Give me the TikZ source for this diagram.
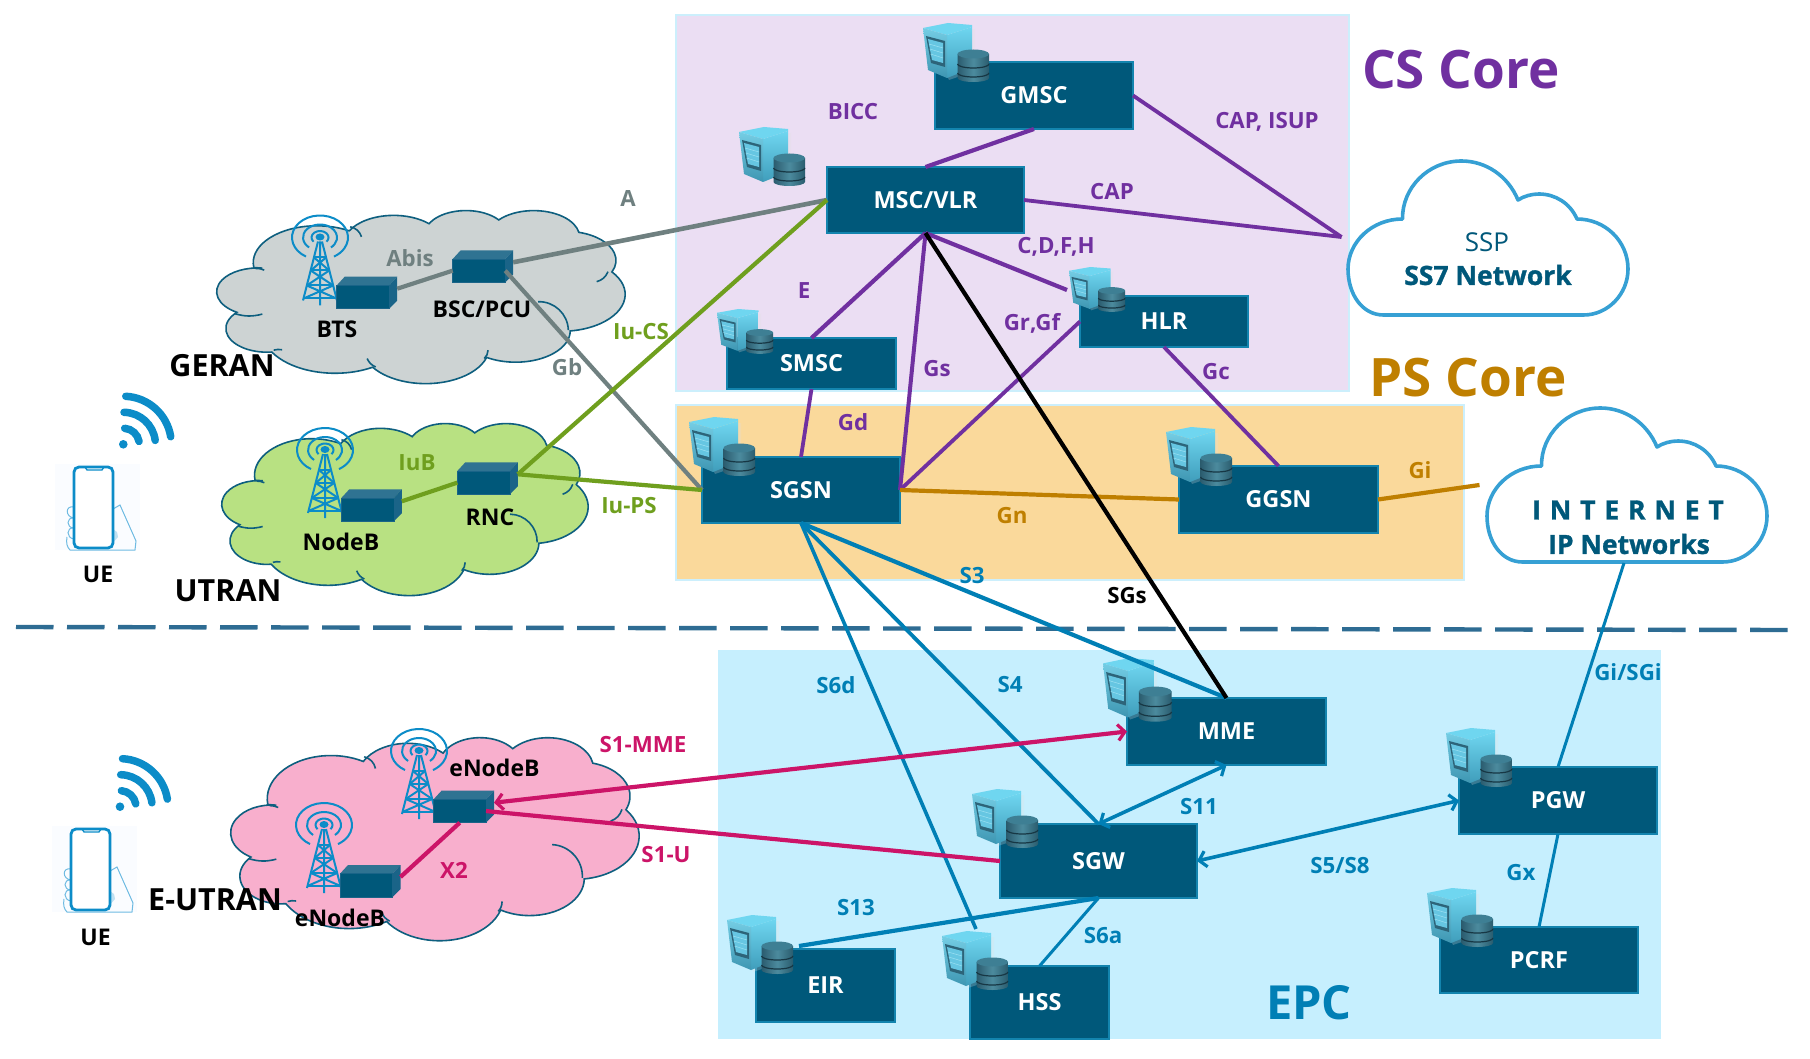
\documentclass[tikz,border=0pt]{standalone}
\usepackage{fontspec}
\setmainfont{Open Sans}
\usetikzlibrary{arrows.meta}
\definecolor{cBox}{HTML}{00587A}
\definecolor{cBoxEdge}{HTML}{1384AE}
\definecolor{cPurple}{HTML}{7030A0}
\definecolor{cGold}{HTML}{BF7F00}
\definecolor{cBlue}{HTML}{007FB5}
\definecolor{cGrey}{HTML}{6F8080}
\definecolor{cGreen}{HTML}{6F9F1E}
\definecolor{cPink}{HTML}{CC1468}
\definecolor{cTower}{HTML}{0C8CC8}
\definecolor{cCloudEdge}{HTML}{0E5F7F}
\definecolor{cNet}{HTML}{36A0D4}
% PowerPoint-like cloud outline, built as a path macro
\gdef\cloudpath{}
\newcommand\mkarc[4]{%
  \pgfmathsetmacro\ta{atan2(#1*sin(#3),#2*cos(#3))}%
  \pgfmathsetmacro\tb{atan2(#1*sin(#3+#4),#2*cos(#3+#4))}%
  \pgfmathsetmacro\tb{ifthenelse(\tb<\ta,\tb+360,\tb)}%
  \xdef\cloudpath{\cloudpath arc[x radius=#1,y radius=#2,start angle=\ta,end angle=\tb] }}
\mkarc{67.53}{91.90}{-190.487}{123.780}
\mkarc{53.33}{72.67}{-144.102}{89.945}
\mkarc{43.65}{59.45}{-145.808}{99.723}
\mkarc{48.57}{65.95}{-130.986}{117.242}
\mkarc{53.33}{72.73}{-78.709}{109.027}
\mkarc{67.75}{92.20}{-46.267}{130.269}
\mkarc{57.85}{78.67}{0.625}{114.033}
\mkarc{67.52}{92.15}{22.452}{115.173}
\mkarc{77.20}{105.43}{66.243}{75.711}
\mkarc{43.60}{59.18}{-274.942}{146.736}
\mkarc{43.45}{59.45}{-246.829}{161.667}
\newcommand\netcloudarea[6]{% name x y w h colour
  \begin{scope}[shift={(#2,#3)},x=#4pt/432,y=-#5pt/432]
    \filldraw[cloudline,fill=#6] (39,143.7) \cloudpath -- cycle;
    \draw[cloudline] (141,42) to[bend left=30] (153,67);
    \draw[cloudline] (414,154) to[bend left=25] (402,179);
    \draw[cloudline] (340,229) to[bend left=45] (372,300);
    \draw[cloudline] (287,350) to[bend left=20] (283,371);
    \draw[cloudline] (159,371) to[bend right=20] (168,392);
    \draw[cloudline] (60,350) to[bend left=12] (69,349);
    \draw[cloudline] (19,259) to[bend right=15] (48,260);
    \draw[cloudline] (41,146) to[bend left=12] (50,150);
  \end{scope}}
\newcommand\radiounit[3]{% name x y(top of back edge)
  \begin{scope}[shift={(#2,#3)}]
    \fill[fill=cBoxTop] (0,8.7) -- (8,0) -- (60.5,0) -- (52.5,8.7) -- cycle;
    \fill[fill=cBoxSide] (52.5,8.7) -- (60.5,0) -- (60.5,24) -- (52.5,32) -- cycle;
    \node[radiofront] (#1) at (0,8.7) {};
    \coordinate (#1r) at (60.5,12);
  \end{scope}}
\definecolor{cBoxTop}{HTML}{2F7392}
\definecolor{cBoxSide}{HTML}{1A6488}
\tikzset{
  cloudline/.style={draw=cCloudEdge,line width=1.6pt},
  panel/.style={draw=#1,line width=1.5pt},
  netbox/.style={anchor=north west,draw=cBoxEdge,line width=1.1pt,fill=cBox,text=white,inner sep=0pt,outer sep=0pt,font=\fontsize{23.5}{26}\selectfont\bfseries},
  radiofront/.style={anchor=north west,fill=cBox,draw=cBoxSide,line width=.6pt,minimum width=52.5pt,minimum height=23.3pt,inner sep=0pt,outer sep=0pt},
  lbl/.style={inner sep=0pt,outer sep=0pt,font=\fontsize{22.3}{25}\selectfont\bfseries,text=#1},
  lblk/.style={inner sep=0pt,outer sep=0pt,font=\fontsize{23}{26}\selectfont\bfseries,text=black},
  big/.style={inner sep=0pt,outer sep=0pt,font=\fontsize{#1}{#1}\selectfont\bfseries},
  heavy/.style={inner sep=0pt,outer sep=0pt,text=cBox,font=\fontsize{#1}{#1}\selectfont\bfseries\addfontfeature{FakeBold=1.2}},
  wire/.style={line width=#1,line cap=butt},
  barbs/.style={{Straight Barb[length=7pt,width=16pt,line width=3.2pt]}-{Straight Barb[length=7pt,width=16pt,line width=3.2pt]}},
  wifi/.style={draw=cTower,line width=7.5pt,line cap=round},
  pics/srv/.style={code={
    \fill[fill=black!12,opacity=.25] (2,8) -- (26,57) -- (52,48) -- (52,6) -- cycle;
    \shade[top color=cTop,bottom color=cSideB] (24,12) -- (49,4) -- (49,45) -- (24,55) -- cycle;
    \fill[fill=cTop] (0,5) -- (25,0) -- (49,2) -- (49,4) -- (24,12) -- cycle;
    \shade[top color=cFrontT,bottom color=cFrontB] (0,5) -- (24,12) -- (24,55) -- (5,47) -- cycle;
    \fill[fill=cWin] (3,13) -- (22,18) -- (22,44) -- (8,40) -- cycle;
    \fill[fill=cWinL] (5,16) -- (20,20) -- (20,40) -- (9,37) -- cycle;
    \draw[cWinD,line width=.5pt] (6,21) -- (20,25) (6.7,26) -- (20,30) (7.5,31) -- (20,35);
    \shade[left color=cDbA,right color=cDbB,middle color=cDbC] (34.5,31) -- (34.5,55) arc[start angle=180,end angle=0,x radius=15.75,y radius=4] -- (66,31) -- cycle;
    \fill[fill=cDbT] (50.25,31) ellipse[x radius=15.75,y radius=4.5];
    \draw[fill=none,draw=cDbL,line width=1.2pt] (34.5,41) arc[start angle=180,end angle=0,x radius=15.75,y radius=4]
       (34.5,50) arc[start angle=180,end angle=0,x radius=15.75,y radius=4];
  }},
  pics/tower/.style={code={
    \begin{scope}[draw=cTower,line width=2pt]
      \draw (-14,19.05) arc[start angle=120,end angle=420,x radius=28,y radius=22];
      \draw (-10.9,9.96) arc[start angle=130,end angle=410,x radius=17,y radius=13];
      \draw (-6.5,4.18) arc[start angle=140,end angle=400,x radius=8.5,y radius=6.5];
      \draw (-2,4) -- (-17,63) (2,4) -- (17,63) (0,4) -- (0,68);
      \draw (-6,20) -- (6,20) (-9.3,33) -- (9.3,33) (-13.2,48) -- (13.2,48) (-16.5,61) -- (16.5,61);
      \draw (-6,20) -- (9.3,33) (6,20) -- (-9.3,33) (-9.3,33) -- (13.2,48) (9.3,33) -- (-13.2,48) (-13.2,48) -- (16.5,61) (13.2,48) -- (-16.5,61);
    \end{scope}
    \fill[fill=cTower] (0,-.5) ellipse[x radius=4.5,y radius=3.5];
  }},
  pics/wififan/.style={code={
    \fill[fill=cTower] (0,0) circle[radius=4.3];
    \draw[wifi] (2.5,-48) arc[start angle=-87,end angle=-9,radius=48];
    \draw[wifi] (.7,-32) arc[start angle=-89,end angle=-7,radius=32];
    \draw[wifi] (1.4,-16) arc[start angle=-85,end angle=-10,radius=16];
  }},
  pics/phone/.style={code={
    \fill[fill=cPhoneBg] (-19,-3) rectangle (66,83);
    \begin{scope}[draw=cHand,line width=1pt]
      \draw (0,40) .. controls (-9,38) and (-9,50) .. (0,51) .. controls (-8,50) and (-8,61) .. (0,61) .. controls (-8,60) and (-8,71) .. (0,72);
      \draw (-7,70) .. controls (-8,76) and (-7,80) .. (-4,83) -- (61,83) -- (62,74) -- (46,38) -- (39,42);
      \fill[fill=cHand!45] (39,62) -- (43,65) -- (44,70) -- (38,77) -- cycle;
    \end{scope}
    \draw[draw=cTower,line width=2.8pt,fill=white,rounded corners=5pt] (0,0) rectangle (39,81);
    \draw[draw=cTower,line width=1.3pt] (11,0) -- (13,3) -- (28,3) -- (30,0);
  }},
  pics/netcloud/.style={code={
    \draw[draw=cNet,line width=3.6pt,fill=white,line join=round]
      (35.6,154) -- (235.5,154) .. controls (260,154) and (280,133) .. (280,108)
      .. controls (280,80) and (257,58) .. (229,58)
      .. controls (222,42) and (207,33) .. (191,33) .. controls (184,33) and (176,35) .. (170,39)
      .. controls (160,15) and (138,0) .. (113.5,0) .. controls (80,0) and (54,27) .. (54.5,58)
      .. controls (24,58) and (0,81) .. (0,108) .. controls (0,133) and (14,154) .. (35.6,154) -- cycle;
  }},
}
\definecolor{cTop}{HTML}{6FD6F0}
\definecolor{cSideB}{HTML}{3F9DBB}
\definecolor{cFrontT}{HTML}{74CDE4}
\definecolor{cFrontB}{HTML}{3E96B2}
\definecolor{cWin}{HTML}{2D6479}
\definecolor{cWinL}{HTML}{66C6E2}
\definecolor{cWinD}{HTML}{9BE0F2}
\definecolor{cDbA}{HTML}{2B5C6E}
\definecolor{cDbB}{HTML}{2A5C6E}
\definecolor{cDbC}{HTML}{4C8B9E}
\definecolor{cDbT}{HTML}{3E7F94}
\definecolor{cDbL}{HTML}{173744}
\definecolor{cPhoneBg}{HTML}{FAFCFF}
\definecolor{cHand}{HTML}{6FBBE2}
\begin{document}
\begin{tikzpicture}[x=1pt,y=-1pt]
\useasboundingbox (0,0) rectangle (1810,1059);
\fill[white] (0,0) rectangle (1810,1059);
% panels
\filldraw[panel=cyan!20,fill={rgb,255:red,235;green,222;blue,243}] (676,15) rectangle (1349,391);
\filldraw[panel=cyan!20,fill={rgb,255:red,250;green,217;blue,155}] (676,405) rectangle (1464,580);
\fill[fill={rgb,255:red,198;green,239;blue,254}] (718,650) rectangle (1661,1039);
% dashed divider
\coordinate (divL) at (16,627);
\coordinate (divR) at (1792,630);
\draw[draw={rgb,255:red,46;green,108;blue,147},line width=4.4pt,dash pattern=on 37.5pt off 13.5pt] (divL) -- (divR);
% radio clouds
\netcloudarea{geranCloud}{217}{210}{408}{173}{{rgb,255:red,205;green,211;blue,211}}
\netcloudarea{utranCloud}{222}{423}{366}{172}{{rgb,255:red,184;green,225;blue,130}}
\netcloudarea{eutranCloud}{231}{737}{408}{203}{{rgb,255:red,248;green,175;blue,205}}
% white clouds
\pic at (1348,161) {netcloud};
\pic at (1487,408) {netcloud};
\node[inner sep=0pt,outer sep=0pt,text=cBox,font=\fontsize{26}{28}\selectfont] (sspT) at (1487,242) {SSP};
\node[heavy=26.5] (ss7T) at (1488,275) {SS7 Network};
\node[heavy=26.5] (inetT) at (1628,510) {I\,\,N\,\,T\,\,E\,\,R\,\,N\,\,E\,\,T};
\node[heavy=26.5] (ipT) at (1629,544) {IP Networks};
\coordinate (ss7pt) at (1341.5,237);
\coordinate (inetpt) at (1479.5,485);
\coordinate (inetbot) at (1624,563);
% towers
\pic at (320,237.5) {tower};
\pic at (325,450) {tower};
\pic at (419,751) {tower};
\pic at (324,825) {tower};
% radio units
\radiounit{bts}{336.7}{276.7}
\radiounit{bsc}{452.7}{250.3}
\radiounit{nodeb}{341.3}{489.3}
\radiounit{rnc}{457.3}{462.3}
\radiounit{enbU}{433.5}{790.7}
\radiounit{enbL}{340}{865}
% core boxes
\node[netbox,minimum width=198pt,minimum height=67pt] (gmsc) at (935,62) {GMSC};
\node[netbox,minimum width=197pt,minimum height=66pt] (msc) at (827,167) {MSC/VLR};
\node[netbox,minimum width=169pt,minimum height=51pt] (smsc) at (727,338) {SMSC};
\node[netbox,minimum width=168pt,minimum height=51pt] (hlr) at (1080,296) {HLR};
\node[netbox,minimum width=198pt,minimum height=66pt] (sgsn) at (702,457) {SGSN};
\node[netbox,minimum width=199pt,minimum height=67pt] (ggsn) at (1179,466) {GGSN};
\node[netbox,minimum width=199pt,minimum height=67pt] (mme) at (1127,698) {MME};
\node[netbox,minimum width=197pt,minimum height=74pt] (sgw) at (1000,824) {SGW};
\node[netbox,minimum width=198pt,minimum height=67pt] (pgw) at (1459,767) {PGW};
\node[netbox,minimum width=198pt,minimum height=66pt] (pcrf) at (1440,927) {PCRF};
\node[netbox,minimum width=139pt,minimum height=73pt] (eir) at (756,949) {EIR};
\node[netbox,minimum width=139pt,minimum height=73pt] (hss) at (970,966) {HSS};
% server icons
\pic at (923,23) {srv};
\pic at (739,127) {srv};
\pic[xscale=.85,yscale=.76] at (717,309) {srv};
\pic[xscale=.85,yscale=.76] at (1069,267) {srv};
\pic at (689,417) {srv};
\pic at (1166,427) {srv};
\pic[xscale=1.04,yscale=1.08] at (1103,658) {srv};
\pic at (972,789) {srv};
\pic at (1446,728) {srv};
\pic at (1427,888) {srv};
\pic at (727,915) {srv};
\pic at (942,931) {srv};
\coordinate (hlrIcon) at (1067,290);
\coordinate (eirIcon) at (799,946);
\coordinate (hssIcon) at (976,929);
% connectors: grey
\draw[cGrey,wire=4.6pt] (bscr) -- (msc.west);
\draw[cGrey,wire=4.2pt] (btsr) -- (bsc.west);
\draw[cGrey,wire=4.2pt] (bsc.east) -- (sgsn.west);
% green
\draw[cGreen,wire=4.2pt] (nodebr) -- (rnc.west);
\draw[cGreen,wire=4.2pt] (rncr) -- (msc.west);
\draw[cGreen,wire=4.2pt] (rncr) -- (sgsn.west);
% purple
\draw[cPurple,wire=4.2pt] (gmsc.south) -- (msc.north);
\draw[cPurple,wire=3.8pt] (gmsc.east) -- (ss7pt);
\draw[cPurple,wire=3.8pt] (msc.east) -- (ss7pt);
\draw[cPurple,wire=4.2pt] (msc.south) -- (smsc.north);
\draw[cPurple,wire=4pt] (msc.south) -- (sgsn.east);
\draw[cPurple,wire=4.2pt] (msc.south) -- (hlrIcon);
\draw[cPurple,wire=3.8pt] (hlr.west) -- (sgsn.east);
\draw[cPurple,wire=3.8pt] (hlr.south) -- (ggsn.north);
\draw[cPurple,wire=3.8pt] (smsc.south) -- (sgsn.north);
% gold
\draw[cGold,wire=4.2pt] (sgsn.east) -- (ggsn.west);
\draw[cGold,wire=4.2pt] (ggsn.east) -- (inetpt);
% blue
\draw[cBlue,wire=4.2pt] (sgsn.south) -- (mme.north);
\draw[cBlue,wire=3.8pt] (sgsn.south) -- (sgw.north);
\draw[cBlue,wire=3.6pt] (sgsn.south) -- (hssIcon);
\draw[cBlue,wire=3pt] (inetbot) -- (pgw.north);
\draw[cBlue,wire=3pt] (pgw.south) -- (pcrf.north);
\draw[cBlue,wire=4.2pt] (sgw.south) -- (eirIcon);
\draw[cBlue,wire=3pt] (sgw.south) -- (hss.north);
\draw[cBlue,wire=3.6pt,barbs] (mme.south) -- (sgw.north);
\draw[cBlue,wire=3.6pt,barbs] (sgw.east) -- (pgw.west);
% black
\draw[black,wire=4.2pt] (msc.south) -- (mme.north);
% pink
\draw[cPink,wire=4.2pt] (enbLr) -- (enbU.south);
\draw[cPink,wire=4.2pt,barbs] (enbUr) -- (mme.west);
\draw[cPink,wire=4.2pt] (sgw.west) -- (enbU.east);
% wifi + phones
\pic at (123.3,444.3) {wififan};
\pic at (120,806.7) {wififan};
\pic at (74,467) {phone};
\pic at (71,829) {phone};
% black labels
\node[lblk] (tBTS) at (337,329) {BTS};
\node[lblk] (tBSC) at (482,309) {BSC/PCU};
\node[lblk] (tNB) at (341,542) {NodeB};
\node[lblk] (tRNC) at (490,517) {RNC};
\node[lblk] (tENBU) at (494.5,768) {eNodeB};
\node[lblk] (tENBL) at (340,918) {eNodeB};
\node[lblk] (tUE1) at (98,574) {UE};
\node[lblk] (tUE2) at (95.5,937) {UE};
\node[big=30.5,text=black] (tGER) at (222,366) {GERAN};
\node[big=30.5,text=black] (tUTR) at (228,591) {UTRAN};
\node[big=30.5,text=black] (tEUT) at (215,900) {E-UTRAN};
% section titles
\node[big=53,text=cPurple] (tCS) at (1461,70) {CS Core};
\node[big=53,text=cGold] (tPS) at (1468,378) {PS Core};
\node[big=47,text=cBlue] (tEPC) at (1309,1003) {EPC};
% interface labels
\node[lbl=cGrey] (tA) at (628,199) {A};
\node[lbl=cGrey] (tAbis) at (410,258) {Abis};
\node[lbl=cGrey] (tGb) at (567,367) {Gb};
\node[lbl=cGreen] (tIuCS) at (641,332) {Iu-CS};
\node[lbl=cGreen] (tIuB) at (417,463) {IuB};
\node[lbl=cGreen] (tIuPS) at (629,506) {Iu-PS};
\node[lbl=cPurple] (tBICC) at (853,112) {BICC};
\node[lbl=cPurple] (tCAP) at (1112,192) {CAP};
\node[lbl=cPurple] (tCDFH) at (1056,247) {C,D,F,H};
\node[lbl=cPurple] (tE) at (804,291) {E};
\node[lbl=cPurple] (tGrGf) at (1032,323) {Gr,Gf};
\node[lbl=cPurple] (tGs) at (937,369) {Gs};
\node[lbl=cPurple] (tCAPI) at (1267,122) {CAP, ISUP};
\node[lbl=cPurple] (tGc) at (1216,372) {Gc};
\node[lbl=cPurple] (tGd) at (853,422) {Gd};
\node[lbl=cGold] (tGn) at (1012,516) {Gn};
\node[lbl=cGold] (tGi) at (1420,470) {Gi};
\node[lbl=cBlue] (tS3) at (972,576) {S3};
\node[lbl=black] (tSGs) at (1127,596) {SGs};
\node[lbl=cBlue] (tS6d) at (836,685) {S6d};
\node[lbl=cBlue] (tS4) at (1010,685) {S4};
\node[lbl=cBlue] (tS11) at (1199,807) {S11};
\node[lbl=cBlue] (tS58) at (1340,866) {S5/S8};
\node[lbl=cBlue] (tS13) at (856,908) {S13};
\node[lbl=cBlue] (tS6a) at (1103,936) {S6a};
\node[lbl=cBlue] (tGx) at (1521,873) {Gx};
\node[lbl=cBlue] (tGiS) at (1628,672) {Gi/SGi};
\node[lbl=cPink] (tS1M) at (643,745) {S1-MME};
\node[lbl=cPink] (tS1U) at (666,855) {S1-U};
\node[lbl=cPink] (tX2) at (454,870) {X2};
\end{tikzpicture}
\end{document}
